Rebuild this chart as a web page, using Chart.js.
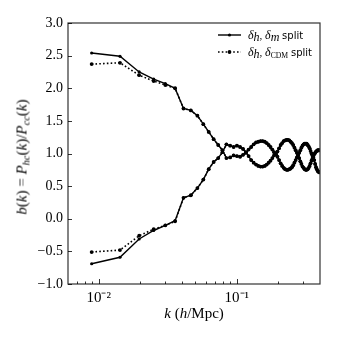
<!DOCTYPE html>
<html><head><meta charset="utf-8">
<script src="https://cdn.jsdelivr.net/npm/chart.js@4"></script>
<style>
html,body{margin:0;padding:0;background:#fff;}
#wrap{position:relative;width:337px;height:337px;overflow:hidden;}
canvas{position:absolute;left:0;top:0;}
.t{position:absolute;font-family:'Liberation Serif',serif;font-weight:normal;color:#000;white-space:nowrap;line-height:1;}
sub{font-size:70%;vertical-align:-0.3em;line-height:0;}
.lg{position:absolute;font-size:11px;color:#000;white-space:nowrap;line-height:1;}
.lg i{font-family:'Liberation Serif',serif;font-size:12px;}
.lg .s{font-family:'DejaVu Sans',sans-serif;font-size:10px;}
</style></head><body>
<div id="wrap">
<canvas id="c" width="337" height="337"></canvas>
<div class="t" id="ytitle" style="left:22px;top:157px;font-size:15px;transform:translate(-50%,-50%) rotate(-90deg);"><i>b</i>(<i>k</i>) = <i>P</i><sub><i>hc</i></sub>(<i>k</i>)/<i>P</i><sub><i>cc</i></sub>(<i>k</i>)</div>
<div class="t" id="xtitle" style="left:194px;top:313px;font-size:15px;transform:translate(-50%,-50%);"><i>k</i> (<i>h</i>/Mpc)</div>
<div class="lg" style="left:248px;top:29px;"><i>δ</i><sub><i>h</i></sub>, <i>δ</i><sub><i>m</i></sub> <span class="s">split</span></div>
<div class="lg" style="left:248px;top:46px;"><i>δ</i><sub><i>h</i></sub>, <i>δ</i><sub>CDM</sub> <span class="s">split</span></div>
</div>
<script>
const kValues = [0.0089,0.01427,0.01964,0.02501,0.03038,0.03575,0.04112,0.04649,0.05186,0.05723,
0.0626,0.06797,0.07334,0.07871,0.08408,0.08945,0.09482,0.10019,0.10556,0.11093,
0.1163,0.12167,0.12704,0.13241,0.13778,0.14315,0.14852,0.15389,0.15926,0.16463,
0.17,0.17537,0.18074,0.18611,0.19148,0.19685,0.20222,0.20759,0.21296,0.21833,
0.2237,0.22907,0.23444,0.23981,0.24518,0.25055,0.25592,0.26129,0.26666,0.27203,
0.2774,0.28277,0.28814,0.29351,0.29888,0.30425,0.30962,0.31499,0.32036,0.32573,
0.3311,0.33647,0.34184,0.34721,0.35258,0.35795,0.36332,0.36869,0.37406,0.37943,
0.3848,0.39017,0.39554];

const mSplitHigh = [2.54,2.49,2.25,2.14,2.07,2.00,1.69,1.66,1.58,1.45,1.33,1.22,1.13,
1.05,
0.93,0.94,0.97,0.96,0.95,0.98,
1.01,
1.06,1.10,1.14,1.17,1.18,1.19,1.19,1.18,1.16,1.13,1.10,1.06,1.02,
0.99,
0.95,0.90,0.85,0.81,0.78,0.76,0.75,0.75,0.76,0.77,0.79,0.82,0.86,0.90,0.94,
0.97,
1.01,1.05,1.09,1.12,1.14,1.15,1.15,1.15,1.13,1.11,1.08,1.04,1.00,0.97,
0.95,
0.90,0.84,0.79,0.76,0.73,0.72,0.71];

const mSplitLow = [-0.69,-0.59,-0.31,-0.18,-0.10,-0.03,0.32,0.36,0.47,0.60,0.76,0.87,0.93,
1.02,
1.14,1.12,1.10,1.12,1.10,1.07,
1.02,
0.96,0.90,0.86,0.83,0.81,0.80,0.80,0.81,0.83,0.86,0.89,0.93,0.97,
0.99,
1.03,1.08,1.13,1.16,1.19,1.20,1.21,1.21,1.20,1.18,1.16,1.13,1.09,1.05,1.01,
0.98,
0.93,0.88,0.84,0.80,0.78,0.76,0.75,0.75,0.76,0.78,0.81,0.85,0.89,0.92,
0.94,
0.99,1.01,1.03,1.04,1.05,1.05,1.05];

const cdmSplitHigh = [2.37,2.39,2.20,2.11,2.05,2.00,1.69,1.66,1.58,1.45,1.33,1.22,1.13,
1.05,
0.93,0.94,0.97,0.96,0.95,0.98,
1.01,
1.06,1.10,1.14,1.17,1.18,1.19,1.19,1.18,1.16,1.13,1.10,1.06,1.02,
0.99,
0.95,0.90,0.85,0.81,0.78,0.76,0.75,0.75,0.76,0.77,0.79,0.82,0.86,0.90,0.94,
0.97,
1.01,1.05,1.09,1.12,1.14,1.15,1.15,1.15,1.13,1.11,1.08,1.04,1.00,0.97,
0.95,
0.90,0.84,0.79,0.76,0.73,0.72,0.71];

const cdmSplitLow = [-0.51,-0.48,-0.26,-0.16,-0.10,-0.04,0.32,0.36,0.47,0.60,0.76,0.87,0.93,
1.02,
1.14,1.12,1.10,1.12,1.10,1.07,
1.02,
0.96,0.90,0.86,0.83,0.81,0.80,0.80,0.81,0.83,0.86,0.89,0.93,0.97,
0.99,
1.03,1.08,1.13,1.16,1.19,1.20,1.21,1.21,1.20,1.18,1.16,1.13,1.09,1.05,1.01,
0.98,
0.93,0.88,0.84,0.80,0.78,0.76,0.75,0.75,0.76,0.78,0.81,0.85,0.89,0.92,
0.94,
0.99,1.01,1.03,1.04,1.05,1.05,1.05];

const xTickValues = [0.01, 0.1];
const xTickLabels = ['10\u207B\u00B2', '10\u207B\u00B9'];
const xMinorTicks = [0.007,0.008,0.009,0.02,0.03,0.04,0.05,0.06,0.07,0.08,0.09,0.2,0.3,0.4];
const yTickValues = [-1,-0.5,0,0.5,1,1.5,2,2.5,3];

function pts(ys){ return kValues.map((k,i)=>({x:k,y:ys[i]})); }

const solidStyle = {borderColor:'#000',backgroundColor:'#000',borderWidth:1.4,pointRadius:1.6,pointHoverRadius:0,pointBorderWidth:0,tension:0};
const dotStyle = {borderColor:'#000',backgroundColor:'#000',borderWidth:1.6,borderDash:[1.6,2.2],pointRadius:1.9,pointHoverRadius:0,pointBorderWidth:0,tension:0};

const framePlugin = {
  id:'frame',
  afterDraw(chart){
    const ctx = chart.ctx, a = chart.chartArea;
    const xs = chart.scales.x, ys = chart.scales.y;
    ctx.save();
    ctx.strokeStyle = '#333';
    ctx.lineWidth = 1.2;
    ctx.strokeRect(a.left, a.top, a.right-a.left, a.bottom-a.top);
    ctx.strokeStyle = '#000';
    ctx.lineWidth = 0.8;
    ctx.beginPath();
    xTickValues.forEach(v=>{ const x = Math.round(xs.getPixelForValue(v))+0.5; ctx.moveTo(x,a.bottom); ctx.lineTo(x,a.bottom-5); });
    xMinorTicks.forEach(v=>{ const x = Math.round(xs.getPixelForValue(v))+0.5; if(x>a.left+1 && x<a.right-1){ ctx.moveTo(x,a.bottom); ctx.lineTo(x,a.bottom-2.5);} });
    yTickValues.forEach(v=>{ const y = Math.round(ys.getPixelForValue(v))+0.5; ctx.moveTo(a.left,y); ctx.lineTo(a.left+4,y); });
    ctx.stroke();
    // legend handles
    ctx.lineWidth = 1.4;
    ctx.setLineDash([]);
    ctx.beginPath(); ctx.moveTo(218,35); ctx.lineTo(241,35); ctx.stroke();
    ctx.beginPath(); ctx.arc(229.5,35,1.6,0,Math.PI*2); ctx.fill();
    ctx.lineWidth = 1.6;
    ctx.setLineDash([1.6,2.2]);
    ctx.beginPath(); ctx.moveTo(218,52); ctx.lineTo(241,52); ctx.stroke();
    ctx.setLineDash([]);
    ctx.beginPath(); ctx.arc(229.5,52,1.9,0,Math.PI*2); ctx.fill();
    ctx.restore();
  }
};

const serifFont = "'Liberation Serif', serif";

new Chart(document.getElementById('c'), {
  type:'line',
  data:{datasets:[
    Object.assign({label:'δh, δm split', data:pts(mSplitHigh)}, solidStyle),
    Object.assign({label:'δh, δm split (low)', data:pts(mSplitLow)}, solidStyle),
    Object.assign({label:'δh, δCDM split', data:pts(cdmSplitHigh)}, dotStyle),
    Object.assign({label:'δh, δCDM split (low)', data:pts(cdmSplitLow)}, dotStyle)
  ]},
  options:{
    responsive:false, animation:false, devicePixelRatio:1,
    layout:{padding:{top:23,right:17,left:0,bottom:0}},
    plugins:{legend:{display:false},tooltip:{enabled:false}},
    scales:{
      x:{type:'logarithmic',min:0.006,max:0.4,
        grid:{display:false,drawTicks:false},border:{display:false},
        afterBuildTicks(s){ s.ticks = xTickValues.map(v=>({value:v})); },
        afterFit(s){ s.height = 53; },
        ticks:{padding:5,color:'#000',maxRotation:0,autoSkip:false,font:{family:serifFont,size:15,weight:'normal'},
          callback(v){ const i = xTickValues.indexOf(v); return i>=0 ? xTickLabels[i] : ''; }}
      },
      y:{min:-1,max:3,
        grid:{display:false,drawTicks:false},border:{display:false},
        afterBuildTicks(s){ s.ticks = yTickValues.map(v=>({value:v})); },
        afterFit(s){ s.width = 68; },
        ticks:{padding:5,color:'#000',font:{family:serifFont,size:14,weight:'normal'},
          callback(v){ return (v<0?'\u2212':'') + Math.abs(v).toFixed(1); }}
      }
    }
  },
  plugins:[framePlugin]
});
</script>
</body></html>
